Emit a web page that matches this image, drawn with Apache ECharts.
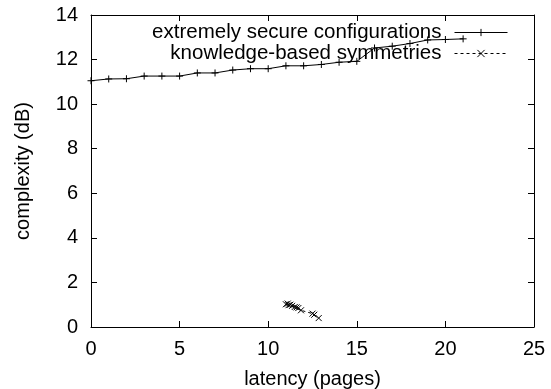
<!DOCTYPE html>
<html>
<head>
<meta charset="utf-8">
<script src="https://cdn.jsdelivr.net/npm/echarts@6/dist/echarts.min.js"></script>
<style>
  html, body { margin: 0; padding: 0; background: #fff; }
  #chart { width: 551px; height: 389px; }
</style>
</head>
<body>
<div id="chart"></div>
<script>
// data
const secureX = [0, 1, 2, 3, 4, 5, 6, 7, 8, 9, 10, 11, 12, 13, 14, 15, 16, 17, 18, 19, 20, 21];
const secureY = [11.05, 11.13, 11.14, 11.26, 11.26, 11.26, 11.4, 11.4, 11.53, 11.59, 11.59,
                 11.72, 11.72, 11.78, 11.88, 11.92, 12.52, 12.6, 12.72, 12.88, 12.9, 12.93];
const symX = [11.0, 11.1, 11.15, 11.25, 11.35, 11.5, 11.6, 11.7, 11.85, 12.5, 12.6, 12.85];
const symY = [1.02, 1.05, 0.98, 1.0, 0.95, 0.9, 0.88, 0.85, 0.75, 0.6, 0.55, 0.4];
const xTicks = [0, 5, 10, 15, 20, 25];
const yTicks = [0, 2, 4, 6, 8, 10, 12, 14];

const font = 'Liberation Sans, Arial, Helvetica, sans-serif';
const plus = 'path://M0,5L10,5M5,0L5,10';
const cross = 'path://M0,0L10,10M0,10L10,0';

function pairs(xs, ys) {
  return xs.map((x, i) => [x, ys[i]]);
}

const chart = echarts.init(document.getElementById('chart'));

const xBase = {
  type: 'value', min: xTicks[0], max: xTicks[xTicks.length - 1], interval: 5,
  splitLine: { show: false },
  axisLine: { onZero: false, lineStyle: { color: '#000', width: 1 } },
  axisTick: { inside: true, length: 6, lineStyle: { color: '#000' } }
};
const yBase = {
  type: 'value', min: yTicks[0], max: yTicks[yTicks.length - 1], interval: 2,
  splitLine: { show: false },
  axisLine: { onZero: false, lineStyle: { color: '#000', width: 1 } },
  axisTick: { inside: true, length: 6, lineStyle: { color: '#000' } }
};

const legendText = { fontSize: 20.5, color: '#000', fontFamily: font, padding: [0, 8, 0, 0] };
const legendItem = { color: 'rgba(0,0,0,0)', borderColor: '#000', borderWidth: 1 };

chart.setOption({
  animation: false,
  textStyle: { fontFamily: font },
  grid: { left: 91, top: 15, right: 17, bottom: 62, outerBoundsMode: 'none', containLabel: false },
  legend: [
    {
      data: ['extremely secure configurations'],
      right: 43, top: 22, align: 'right', padding: 0,
      itemWidth: 53, itemHeight: 9,
      lineStyle: { width: 1 },
      itemStyle: legendItem,
      textStyle: legendText
    },
    {
      data: ['knowledge-based symmetries'],
      right: 43, top: 43, align: 'right', padding: 0,
      itemWidth: 53, itemHeight: 9,
      lineStyle: { width: 1 },
      itemStyle: legendItem,
      textStyle: legendText
    }
  ],
  xAxis: [
    Object.assign({}, xBase, {
      position: 'bottom',
      name: 'latency (pages)', nameLocation: 'middle', nameGap: 42,
      nameTextStyle: { fontSize: 20, color: '#000', fontFamily: font },
      axisLabel: { fontSize: 20, color: '#000', margin: 12, fontFamily: font }
    }),
    Object.assign({}, xBase, { position: 'top', axisLabel: { show: false } })
  ],
  yAxis: [
    Object.assign({}, yBase, {
      position: 'left',
      name: 'complexity (dB)', nameLocation: 'middle', nameGap: 58,
      nameTextStyle: { fontSize: 20, color: '#000', fontFamily: font },
      axisLabel: { fontSize: 20, color: '#000', margin: 13, fontFamily: font }
    }),
    Object.assign({}, yBase, { position: 'right', axisLabel: { show: false } })
  ],
  series: [
    {
      name: 'extremely secure configurations',
      type: 'line',
      data: pairs(secureX, secureY),
      symbol: plus, symbolSize: 7,
      lineStyle: { color: '#000', width: 1 },
      itemStyle: { color: 'rgba(0,0,0,0)', borderColor: '#000', borderWidth: 1 }
    },
    {
      name: 'knowledge-based symmetries',
      type: 'line',
      data: pairs(symX, symY),
      symbol: cross, symbolSize: 6,
      lineStyle: { color: '#000', width: 1, type: [3, 3] },
      itemStyle: { color: 'rgba(0,0,0,0)', borderColor: '#000', borderWidth: 1 }
    }
  ]
});
</script>
</body>
</html>
